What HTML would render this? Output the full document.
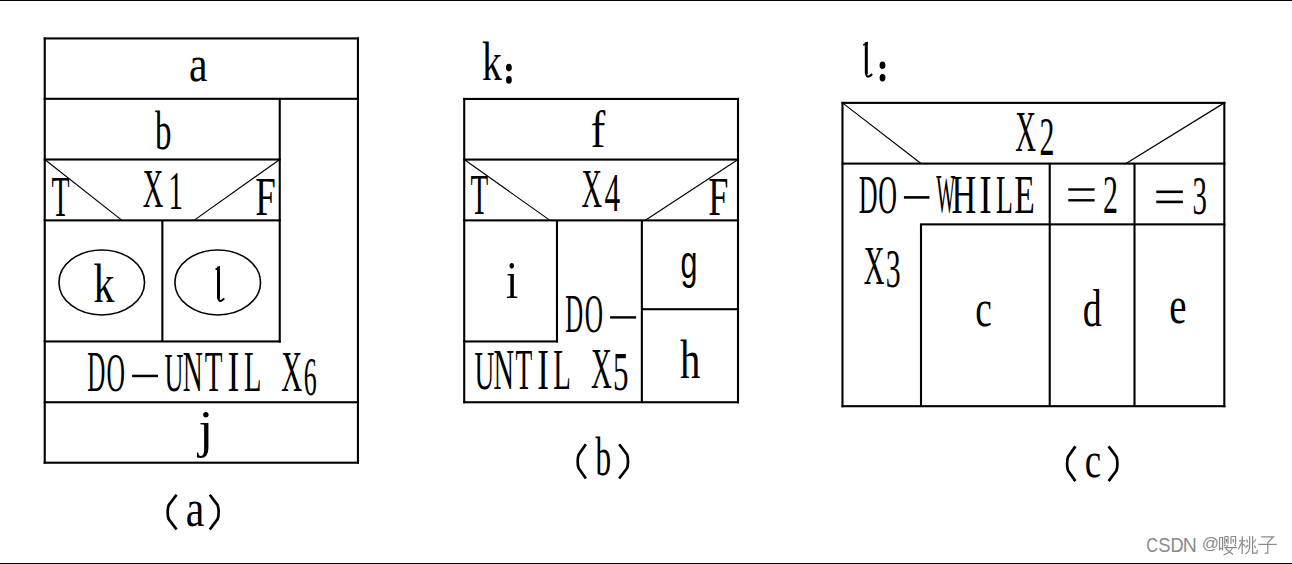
<!DOCTYPE html>
<html><head><meta charset="utf-8"><style>
html,body{margin:0;padding:0;background:#fff;}
body{width:1292px;height:564px;overflow:hidden;position:relative;}
svg{position:absolute;left:0;top:0;}
text.s{font-family:"Liberation Serif",serif;font-size:100px;}
text.sb{font-family:"Liberation Serif",serif;font-size:100px;font-weight:bold;}
text.n{font-family:"Liberation Sans",sans-serif;font-size:100px;}
.wm{position:absolute;left:1146px;top:534px;font-family:"Liberation Sans",sans-serif;font-size:18px;line-height:20px;color:#8a8a8a;white-space:nowrap;}
</style></head><body>
<svg width="1292" height="564" viewBox="0 0 1292 564">
<g fill="#000" shape-rendering="crispEdges">
<rect x="0" y="0" width="1292" height="1"/>
<rect x="0" y="563" width="1292" height="1"/>
</g>
<g fill="#000">
<rect x="43.69" y="37.38" width="315.29" height="2.10"/>
<rect x="43.69" y="97.75" width="315.29" height="2.10"/>
<rect x="43.69" y="401.20" width="315.29" height="2.10"/>
<rect x="43.69" y="461.65" width="315.29" height="2.10"/>
<rect x="43.69" y="158.45" width="237.10" height="2.10"/>
<rect x="43.69" y="219.33" width="237.10" height="2.10"/>
<rect x="43.69" y="340.40" width="237.10" height="2.10"/>
<rect x="43.69" y="37.38" width="2.10" height="426.37"/>
<rect x="356.88" y="37.38" width="2.10" height="426.37"/>
<rect x="278.69" y="98.80" width="2.10" height="243.70"/>
<rect x="161.31" y="220.38" width="2.10" height="121.07"/>
<rect x="463.17" y="97.90" width="275.88" height="2.10"/>
<rect x="463.17" y="158.53" width="275.88" height="2.10"/>
<rect x="463.17" y="219.33" width="275.88" height="2.10"/>
<rect x="463.17" y="401.20" width="275.88" height="2.10"/>
<rect x="463.17" y="340.40" width="94.86" height="2.10"/>
<rect x="641.85" y="308.16" width="97.20" height="2.10"/>
<rect x="463.17" y="97.90" width="2.10" height="305.40"/>
<rect x="736.95" y="97.90" width="2.10" height="305.40"/>
<rect x="555.93" y="220.38" width="2.10" height="122.12"/>
<rect x="640.80" y="220.38" width="2.10" height="181.87"/>
<rect x="841.43" y="101.83" width="383.94" height="2.10"/>
<rect x="841.43" y="162.54" width="383.94" height="2.10"/>
<rect x="841.43" y="405.15" width="383.94" height="2.10"/>
<rect x="919.95" y="223.32" width="305.42" height="2.10"/>
<rect x="841.43" y="101.83" width="2.10" height="305.42"/>
<rect x="1223.27" y="101.83" width="2.10" height="305.42"/>
<rect x="919.95" y="224.37" width="2.10" height="181.83"/>
<rect x="1048.67" y="163.59" width="2.10" height="242.61"/>
<rect x="1133.45" y="163.59" width="2.10" height="242.61"/>
</g>
<g stroke="#000" fill="none">
<line x1="44.74" y1="159.5" x2="122" y2="220.38" stroke-width="1.2"/>
<line x1="279.74" y1="159.5" x2="194" y2="220.38" stroke-width="1.2"/>
<line x1="464.22" y1="159.58" x2="550" y2="220.38" stroke-width="1.2"/>
<line x1="738.0" y1="159.58" x2="645" y2="220.38" stroke-width="1.2"/>
<line x1="842.48" y1="102.88" x2="921" y2="163.59" stroke-width="1.2"/>
<line x1="1224.32" y1="102.88" x2="1126" y2="163.59" stroke-width="1.2"/>
</g>
<g stroke="#000" fill="none" stroke-width="1.6">
<ellipse cx="101.75" cy="282.45" rx="42.8" ry="32.5"/>
<ellipse cx="217.7" cy="282.45" rx="42.8" ry="32.5"/>
</g>
<g fill="#000">
<text class="s" transform="matrix(0.41770 0 0 0.51357 189.032 81.198)">a</text>
<text class="s" transform="matrix(0.32907 0 0 0.54149 155.000 149.471)">b</text>
<text class="s" transform="matrix(0.29505 0 0 0.57729 51.467 215.500)">T</text>
<text class="s" transform="matrix(0.28587 0 0 0.55591 142.872 207.400)">X</text>
<text class="s" transform="matrix(0.28973 0 0 0.54836 168.454 208.900)">1</text>
<text class="s" transform="matrix(0.36848 0 0 0.55285 255.338 215.200)">F</text>
<text class="s" transform="matrix(0.41792 0 0 0.55055 93.604 302.000)">k</text>
<rect x="217" y="266.60" width="3.0" height="31.90"/>
<path d="M215.20,268.80 L220.00,265.80 L220.00,269.00 L215.80,270.20 Z"/>
<path d="M218.20,297.50 Q218.80,301.40 220.50,301.00 Q222.50,300.50 224.20,298.40" fill="none" stroke="#000" stroke-width="2"/>
<text class="s" transform="matrix(0.25103 0 0 0.56339 87.277 391.190)">D</text>
<text class="s" transform="matrix(0.25620 0 0 0.55070 106.449 390.762)">O</text>
<rect x="132.1" y="374.7" width="25.90" height="2.5"/>
<text class="s" transform="matrix(0.26317 0 0 0.55827 164.447 390.855)">U</text>
<text class="s" transform="matrix(0.27744 0 0 0.56660 182.701 391.400)">N</text>
<text class="s" transform="matrix(0.28984 0 0 0.56660 204.676 391.400)">T</text>
<text class="s" transform="matrix(0.35534 0 0 0.56660 227.416 391.400)">I</text>
<text class="s" transform="matrix(0.28546 0 0 0.56660 243.978 391.400)">L</text>
<text class="s" transform="matrix(0.29027 0 0 0.56660 281.362 391.400)">X</text>
<text class="s" transform="matrix(0.25980 0 0 0.55367 303.784 394.659)">6</text>
<text class="s" transform="matrix(0.53012 0 0 0.51771 198.527 446.678)">j</text>
<text class="s" transform="matrix(0.41770 0 0 0.52192 185.832 526.290)">a</text>
<text class="s" transform="matrix(0.39712 0 0 0.55199 482.044 79.700)">k</text>
<text class="s" transform="matrix(0.43673 0 0 0.51981 590.657 146.600)">f</text>
<text class="s" transform="matrix(0.28984 0 0 0.56813 470.476 214.200)">T</text>
<text class="s" transform="matrix(0.28440 0 0 0.55591 581.575 206.800)">X</text>
<text class="s" transform="matrix(0.31408 0 0 0.54998 604.487 210.900)">4</text>
<text class="s" transform="matrix(0.36237 0 0 0.55896 708.356 215.300)">F</text>
<text class="s" transform="matrix(0.43736 0 0 0.53617 506.082 297.900)">i</text>
<text class="s" transform="matrix(0.24796 0 0 0.55425 565.286 332.292)">D</text>
<text class="s" transform="matrix(0.25307 0 0 0.54177 584.662 331.871)">O</text>
<rect x="610.1" y="316.2" width="26.00" height="2.4"/>
<text class="n" transform="matrix(0.30464 0 0 0.46765 680.421 278.095)">g</text>
<text class="s" transform="matrix(0.27493 0 0 0.55526 474.423 388.558)">U</text>
<text class="s" transform="matrix(0.28490 0 0 0.56354 493.479 389.100)">N</text>
<text class="s" transform="matrix(0.27422 0 0 0.56354 515.505 389.100)">T</text>
<text class="s" transform="matrix(0.35152 0 0 0.56354 537.130 389.100)">I</text>
<text class="s" transform="matrix(0.28929 0 0 0.56354 553.367 389.100)">L</text>
<text class="s" transform="matrix(0.28880 0 0 0.57271 591.065 387.800)">X</text>
<text class="s" transform="matrix(0.31030 0 0 0.55376 612.897 390.459)">5</text>
<text class="s" transform="matrix(0.40667 0 0 0.55776 680.003 377.600)">h</text>
<text class="s" transform="matrix(0.31175 0 0 0.54860 595.600 475.464)">b</text>
<rect x="864.8" y="42.20" width="3.0" height="31.90"/>
<path d="M862.80,44.40 L867.80,41.40 L867.80,44.60 L863.40,45.80 Z"/>
<path d="M866.00,73.10 Q866.60,77.00 868.30,76.60 Q870.40,76.10 872.10,74.00" fill="none" stroke="#000" stroke-width="2"/>
<text class="s" transform="matrix(0.28734 0 0 0.56049 1015.369 150.700)">X</text>
<text class="s" transform="matrix(0.29934 0 0 0.55429 1039.385 154.500)">2</text>
<text class="s" transform="matrix(0.26021 0 0 0.55730 858.850 212.991)">D</text>
<text class="s" transform="matrix(0.25932 0 0 0.54474 878.136 212.568)">O</text>
<rect x="903.9" y="196.1" width="25.50" height="2.6"/>
<text class="s" transform="matrix(0.19980 0 0 0.54932 936.180 212.469)">W</text>
<text class="s" transform="matrix(0.34184 0 0 0.55896 951.515 213.100)">H</text>
<text class="s" transform="matrix(0.37445 0 0 0.55896 979.147 213.100)">I</text>
<text class="s" transform="matrix(0.27779 0 0 0.55896 996.100 213.100)">L</text>
<text class="s" transform="matrix(0.33632 0 0 0.55896 1014.131 213.100)">E</text>
<rect x="1068.3" y="188.3" width="26.30" height="2.4"/>
<rect x="1068.3" y="199.1" width="26.30" height="2.4"/>
<text class="s" transform="matrix(0.29934 0 0 0.54674 1102.885 213.000)">2</text>
<rect x="1156.3" y="190.5" width="26.60" height="2.6"/>
<rect x="1156.3" y="200.6" width="26.60" height="2.6"/>
<text class="s" transform="matrix(0.28808 0 0 0.54177 1192.422 214.471)">3</text>
<text class="s" transform="matrix(0.28734 0 0 0.55743 863.769 284.100)">X</text>
<text class="s" transform="matrix(0.29776 0 0 0.54326 885.775 287.169)">3</text>
<text class="s" transform="matrix(0.37333 0 0 0.53227 975.278 325.880)">c</text>
<text class="s" transform="matrix(0.37860 0 0 0.53581 1082.732 325.577)">d</text>
<text class="s" transform="matrix(0.38907 0 0 0.53019 1169.280 322.582)">e</text>
<text class="s" transform="matrix(0.36800 0 0 0.50940 1084.798 477.403)">c</text>
<path d="M176.60,494.80 L168.70,505.18 C167.35,508.48 167.35,515.82 168.70,519.12 L176.60,529.50" fill="none" stroke="#000" stroke-width="2.7" stroke-linejoin="round"/>
<path d="M209.80,494.80 L217.60,505.18 C218.95,508.48 218.95,515.82 217.60,519.12 L209.80,529.50" fill="none" stroke="#000" stroke-width="2.7" stroke-linejoin="round"/>
<path d="M585.90,444.30 L578.70,454.52 C577.35,457.78 577.35,465.02 578.70,468.28 L585.90,478.50" fill="none" stroke="#000" stroke-width="2.7" stroke-linejoin="round"/>
<path d="M619.20,444.30 L627.00,454.52 C628.35,457.78 628.35,465.02 627.00,468.28 L619.20,478.50" fill="none" stroke="#000" stroke-width="2.7" stroke-linejoin="round"/>
<path d="M1075.40,446.40 L1068.10,456.78 C1066.75,460.08 1066.75,467.42 1068.10,470.72 L1075.40,481.10" fill="none" stroke="#000" stroke-width="2.7" stroke-linejoin="round"/>
<path d="M1108.60,446.40 L1116.40,456.78 C1117.75,460.08 1117.75,467.42 1116.40,470.72 L1108.60,481.10" fill="none" stroke="#000" stroke-width="2.7" stroke-linejoin="round"/>
<ellipse cx="508.9" cy="67.6" rx="2.9" ry="3.8"/><ellipse cx="508.9" cy="79.9" rx="2.9" ry="3.8"/>
<ellipse cx="882.5" cy="65.3" rx="2.9" ry="3.8"/><ellipse cx="882.5" cy="77.8" rx="2.9" ry="3.8"/>
</g>
<g fill="#8a8a8a"><text class="n" transform="matrix(0.16264 0 0 0.19915 1146.174 552.006)">C</text>
<text class="n" transform="matrix(0.18413 0 0 0.19915 1158.364 552.006)">S</text>
<text class="n" transform="matrix(0.18234 0 0 0.19913 1170.504 552.000)">D</text>
<text class="n" transform="matrix(0.19513 0 0 0.19913 1182.799 552.000)">N</text>
<text class="n" transform="matrix(0.16939 0 0 0.15995 1201.668 549.490)">@</text></g>
<g stroke="#8a8a8a" stroke-width="1.2" fill="none" stroke-linecap="butt" stroke-linejoin="miter">
<path d="M1219.6,537.5 L1219.6,550.5"/>
<path d="M1219.6,537.5 L1222.6,537.5 L1222.6,550.5"/>
<path d="M1219.6,548.5 L1222.6,548.5"/>
<path d="M1224.8,536.5 L1224.8,544.0"/>
<path d="M1224.8,536.5 L1228.0,536.5 L1228.0,544.0"/>
<path d="M1226.4,539.0 L1226.4,542.5"/>
<path d="M1225.5,544.5 L1224.2,546.0"/>
<path d="M1231.0,536.5 L1231.0,544.0"/>
<path d="M1231.0,536.5 L1235.6,536.5 L1235.6,544.0"/>
<path d="M1233.3,539.0 L1233.3,542.5"/>
<path d="M1234.5,544.5 L1236.0,546.0"/>
<path d="M1224.3,547.6 L1237.0,547.6"/>
<path d="M1227.5,545.0 L1226.0,549.0 L1233.0,554.5"/>
<path d="M1232.5,548.0 L1229.0,552.5 L1223.5,555.0"/>
<path d="M1242.2,536.2 L1242.2,554.0"/>
<path d="M1239.0,540.8 L1245.3,540.8"/>
<path d="M1242.0,542.0 L1238.3,549.3"/>
<path d="M1243.0,544.0 L1245.0,546.0"/>
<path d="M1249.6,536.0 L1249.6,548.0 L1248.5,551.5 L1245.4,554.0"/>
<path d="M1252.6,536.0 L1252.6,553.2 L1257.0,553.2 L1257.3,550.0"/>
<path d="M1246.7,539.5 L1247.6,542.5"/>
<path d="M1245.5,547.5 L1248.3,545.0"/>
<path d="M1255.8,539.5 L1253.4,542.5"/>
<path d="M1254.4,545.5 L1255.8,548.0"/>
<path d="M1261.2,536.8 L1273.4,536.8 L1268.2,542.0"/>
<path d="M1267.8,542.0 L1267.8,553.2 L1264.8,553.2"/>
<path d="M1258.4,544.4 L1276.6,544.4"/>
</g>
</svg>

</body></html>
